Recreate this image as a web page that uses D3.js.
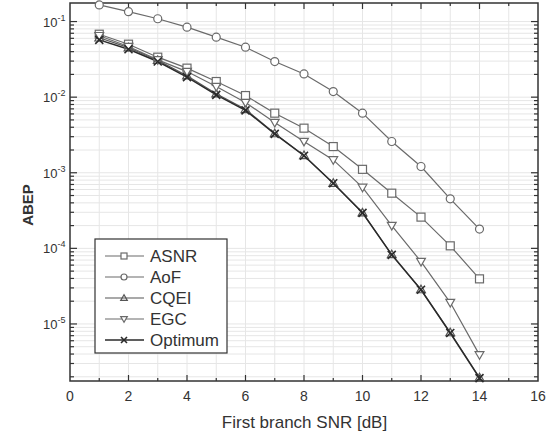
<!DOCTYPE html>
<html>
<head>
<meta charset="utf-8">
<script src="https://cdn.jsdelivr.net/npm/d3@7"></script>
<style>
  body { margin: 0; background: #fff; }
  text { font-family: "Liberation Sans", Arial, sans-serif; fill: #333; }
</style>
</head>
<body>
<svg id="chart" width="556" height="435"></svg>
<script>
// SNR of the first branch [dB]
var snr = [1, 2, 3, 4, 5, 6, 7, 8, 9, 10, 11, 12, 13, 14];

// ABEP per combining scheme
var asnr    = [0.068, 0.0502, 0.0338, 0.0242, 0.0161, 0.0105, 0.00614, 0.00389, 0.00222, 0.00111, 0.000537, 0.000259, 0.000108, 3.95e-5];
var aof     = [0.166, 0.135, 0.109, 0.0843, 0.0622, 0.0458, 0.0296, 0.0203, 0.01185, 0.00614, 0.00259, 0.00121, 0.000452, 0.00018];
var cqei    = [0.061, 0.0452, 0.0308, 0.0192, 0.0111, 0.0069, 0.0033, 0.0017, 0.00073, 0.000296, 8.3e-5, 2.85e-5, 7.7e-6, 1.95e-6];
var egc     = [0.065, 0.0467, 0.0311, 0.0218, 0.0138, 0.0085, 0.00461, 0.00259, 0.00148, 0.00064, 0.0002, 6.68e-5, 1.92e-5, 3.9e-6];
var optimum = [0.0573, 0.0431, 0.0296, 0.0184, 0.0107, 0.0067, 0.00327, 0.00168, 0.000727, 0.000295, 8.2e-5, 2.83e-5, 7.6e-6, 1.92e-6];

var xTicks = [0, 2, 4, 6, 8, 10, 12, 14, 16];
var yExponents = [-1, -2, -3, -4, -5];

var series = [
  { name: "ASNR",    values: asnr,    symbol: "square",   color: "#6a6a6a", width: 1.2 },
  { name: "AoF",     values: aof,     symbol: "circle",   color: "#6a6a6a", width: 1.2 },
  { name: "CQEI",    values: cqei,    symbol: "triUp",    color: "#555",    width: 1.2 },
  { name: "EGC",     values: egc,     symbol: "triDown",  color: "#6a6a6a", width: 1.2 },
  { name: "Optimum", values: optimum, symbol: "cross",    color: "#2a2a2a", width: 1.5 }
];

var svg = d3.select("#chart");
var pLeft = 70, pRight = 538, pTop = 3, pBottom = 381;

var x = d3.scaleLinear().domain([0, 16]).range([pLeft, pRight]);
var y = d3.scaleLog().domain([1.76e-6, 0.176]).range([pBottom, pTop]);

// minor log values inside the visible range
var logVals = [];
for (var e = -6; e <= -1; e++) {
  for (var k = 1; k <= 9; k++) {
    var v = k * Math.pow(10, e);
    if (v >= y.domain()[0] && v <= y.domain()[1]) logVals.push({ v: v, major: k === 1 });
  }
}

// grid
var grid = svg.append("g");
grid.selectAll("line.hg").data(logVals).enter().append("line")
  .attr("x1", pLeft).attr("x2", pRight)
  .attr("y1", function(d) { return y(d.v); }).attr("y2", function(d) { return y(d.v); })
  .attr("stroke", "#e6e6e6").attr("stroke-width", 1);
grid.selectAll("line.vg").data(d3.range(1, 16)).enter().append("line")
  .attr("x1", function(d) { return x(d); }).attr("x2", function(d) { return x(d); })
  .attr("y1", pTop).attr("y2", pBottom)
  .attr("stroke", "#e6e6e6").attr("stroke-width", 1);

// ticks (inward, all four sides)
var ticks = svg.append("g").attr("stroke", "#333").attr("stroke-width", 1.2);
d3.range(1, 16).forEach(function(d) {
  var len = d % 2 === 0 ? 6 : 3;
  ticks.append("line").attr("x1", x(d)).attr("x2", x(d)).attr("y1", pBottom).attr("y2", pBottom - len);
  ticks.append("line").attr("x1", x(d)).attr("x2", x(d)).attr("y1", pTop).attr("y2", pTop + len);
});
logVals.forEach(function(d) {
  var len = d.major ? 7 : 4;
  ticks.append("line").attr("x1", pLeft).attr("x2", pLeft + len).attr("y1", y(d.v)).attr("y2", y(d.v));
  ticks.append("line").attr("x1", pRight).attr("x2", pRight - len).attr("y1", y(d.v)).attr("y2", y(d.v));
});

// frame
svg.append("rect")
  .attr("x", pLeft).attr("y", pTop)
  .attr("width", pRight - pLeft).attr("height", pBottom - pTop)
  .attr("fill", "none").attr("stroke", "#333").attr("stroke-width", 1.5);

// x tick labels
svg.append("g").selectAll("text").data(xTicks).enter().append("text")
  .attr("x", function(d) { return x(d); })
  .attr("y", pBottom + 20)
  .attr("text-anchor", "middle")
  .style("font-size", "14px")
  .text(function(d) { return d; });

// y tick labels 10^n
var yl = svg.append("g").selectAll("text").data(yExponents).enter().append("text")
  .attr("x", 43)
  .attr("y", function(d) { return y(Math.pow(10, d)) + 5; })
  .style("font-size", "13px");
yl.append("tspan").text("10");
yl.append("tspan").attr("dy", -6).style("font-size", "9px").text(function(d) { return "-" + (-d); });

// axis titles
svg.append("text")
  .attr("x", 304.5).attr("y", 428)
  .attr("text-anchor", "middle")
  .style("font-size", "17px")
  .text("First branch SNR [dB]");
svg.append("text")
  .attr("transform", "translate(33," + 205 + ") rotate(-90)")
  .attr("text-anchor", "middle")
  .style("font-size", "15px").style("font-weight", "bold")
  .text("ABEP");

function drawSymbol(g, type, cx, cy, s, color) {
  var h = s / 2;
  if (type === "circle") {
    g.append("circle").attr("cx", cx).attr("cy", cy).attr("r", h)
      .attr("fill", "#fff").attr("stroke", color).attr("stroke-width", 1.2);
  } else if (type === "square") {
    g.append("rect").attr("x", cx - h).attr("y", cy - h).attr("width", s).attr("height", s)
      .attr("fill", "#fff").attr("stroke", color).attr("stroke-width", 1.2);
  } else if (type === "triUp" || type === "triDown") {
    var sg = type === "triUp" ? 1 : -1;
    var pts = [[cx, cy - sg * h * 1.1], [cx - h * 1.1, cy + sg * h * 0.8], [cx + h * 1.1, cy + sg * h * 0.8]];
    g.append("polygon").attr("points", pts.map(function(p) { return p.join(","); }).join(" "))
      .attr("fill", type === "triUp" ? "none" : "#fff").attr("stroke", color).attr("stroke-width", 1.2);
  } else if (type === "cross") {
    g.append("path").attr("d", "M" + (cx - h) + "," + (cy - h) + "L" + (cx + h) + "," + (cy + h) +
      "M" + (cx - h) + "," + (cy + h) + "L" + (cx + h) + "," + (cy - h))
      .attr("stroke", color).attr("stroke-width", 1.6).attr("fill", "none");
  }
}

var line = d3.line()
  .x(function(d) { return x(d[0]); })
  .y(function(d) { return y(d[1]); });

var plot = svg.append("g");
series.forEach(function(s) {
  var pts = snr.map(function(t, i) { return [t, s.values[i]]; });
  plot.append("path").datum(pts)
    .attr("d", line)
    .attr("fill", "none")
    .attr("stroke", s.color)
    .attr("stroke-width", s.width);
});
series.forEach(function(s) {
  snr.forEach(function(t, i) {
    drawSymbol(plot, s.symbol, x(t), y(s.values[i]), 8, s.color);
  });
});

// legend
var lg = svg.append("g");
lg.append("rect").attr("x", 95).attr("y", 239).attr("width", 132).attr("height", 114)
  .attr("fill", "#fff").attr("stroke", "#333").attr("stroke-width", 1.2);
series.forEach(function(s, i) {
  var ly = 256 + i * 21;
  lg.append("line").attr("x1", 105).attr("x2", 144).attr("y1", ly).attr("y2", ly)
    .attr("stroke", s.color).attr("stroke-width", s.width);
  drawSymbol(lg, s.symbol, 124, ly, 6, s.color);
  lg.append("text").attr("x", 150).attr("y", ly + 6)
    .style("font-size", "17px")
    .text(s.name);
});
</script>
</body>
</html>
